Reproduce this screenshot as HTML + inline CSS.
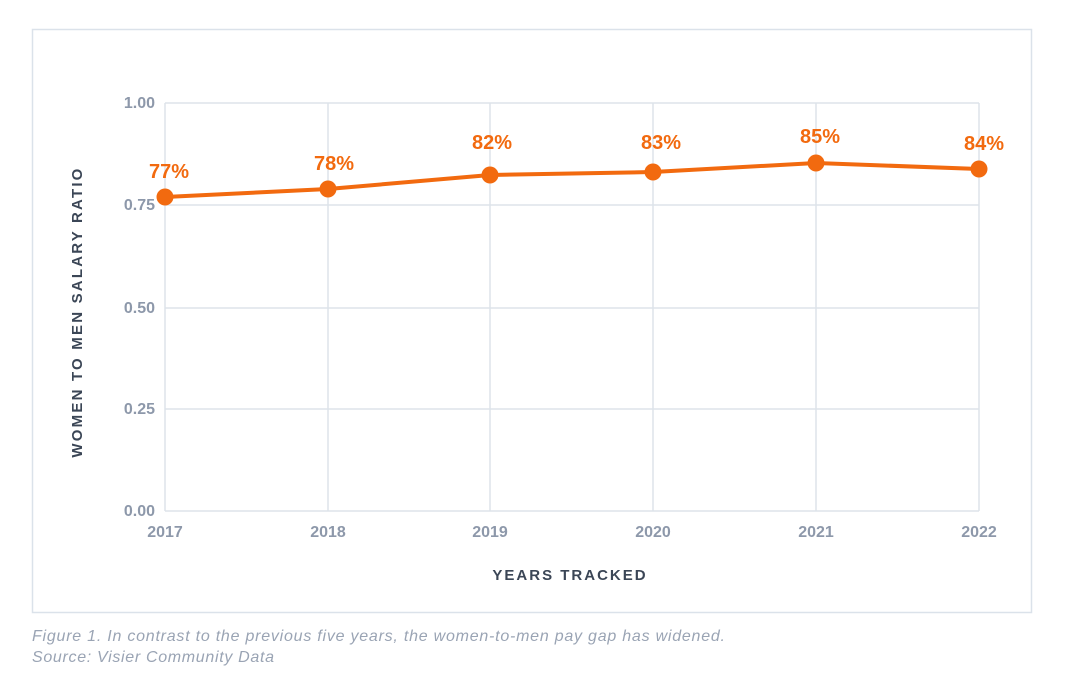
<!DOCTYPE html>
<html><head><meta charset="utf-8"><style>
body{margin:0;background:#fff;width:1065px;height:677px;overflow:hidden;font-family:"Liberation Sans",sans-serif}
</style></head><body>
<svg width="1065" height="677" xmlns="http://www.w3.org/2000/svg" style="position:absolute;left:0;top:0">
<rect x="32.5" y="29.5" width="999" height="583" fill="#fff" stroke="#dbe2ea" stroke-width="1.5"/>
<g stroke="#dde3ea" stroke-width="1.5" fill="none">
<line x1="165" y1="103" x2="979" y2="103"/>
<line x1="165" y1="205" x2="979" y2="205"/>
<line x1="165" y1="308" x2="979" y2="308"/>
<line x1="165" y1="409" x2="979" y2="409"/>
<line x1="165" y1="511" x2="979" y2="511"/>
<line x1="165" y1="103" x2="165" y2="511"/>
<line x1="328" y1="103" x2="328" y2="511"/>
<line x1="490" y1="103" x2="490" y2="511"/>
<line x1="653" y1="103" x2="653" y2="511"/>
<line x1="816" y1="103" x2="816" y2="511"/>
<line x1="979" y1="103" x2="979" y2="511"/>
</g>
<g fill="#8d98aa" font-size="16" font-weight="bold" text-anchor="end">
<text x="155" y="108">1.00</text>
<text x="155" y="210">0.75</text>
<text x="155" y="313">0.50</text>
<text x="155" y="414">0.25</text>
<text x="155" y="516">0.00</text>
</g>
<g fill="#8d98aa" font-size="16" font-weight="bold" text-anchor="middle">
<text x="165" y="537">2017</text>
<text x="328" y="537">2018</text>
<text x="490" y="537">2019</text>
<text x="653" y="537">2020</text>
<text x="816" y="537">2021</text>
<text x="979" y="537">2022</text>
</g>
<text x="570" y="580" fill="#3b4656" font-size="15" font-weight="bold" text-anchor="middle" letter-spacing="2">YEARS TRACKED</text>
<text transform="translate(82,312) rotate(-90)" fill="#3b4656" font-size="15" font-weight="bold" text-anchor="middle" letter-spacing="2.2">WOMEN TO MEN SALARY RATIO</text>
<polyline points="165,197 328,189 490,175 653,172 816,163 979,169" fill="none" stroke="#f26a0f" stroke-width="4"/>
<g fill="#f26a0f">
<circle cx="165" cy="197" r="8.5"/><circle cx="328" cy="189" r="8.5"/><circle cx="490" cy="175" r="8.5"/>
<circle cx="653" cy="172" r="8.5"/><circle cx="816" cy="163" r="8.5"/><circle cx="979" cy="169" r="8.5"/>
</g>
<g fill="#f26a0f" font-size="20" font-weight="bold" text-anchor="middle">
<text x="169" y="178">77%</text>
<text x="334" y="170">78%</text>
<text x="492" y="149">82%</text>
<text x="661" y="149">83%</text>
<text x="820" y="143">85%</text>
<text x="984" y="150">84%</text>
</g>
<g fill="#9aa4b4" font-size="16" font-style="italic">
<text x="32" y="641" textLength="693" lengthAdjust="spacing">Figure 1. In contrast to the previous five years, the women-to-men pay gap has widened.</text>
<text x="32" y="662" textLength="242" lengthAdjust="spacing">Source: Visier Community Data</text>
</g>
</svg>
</body></html>
